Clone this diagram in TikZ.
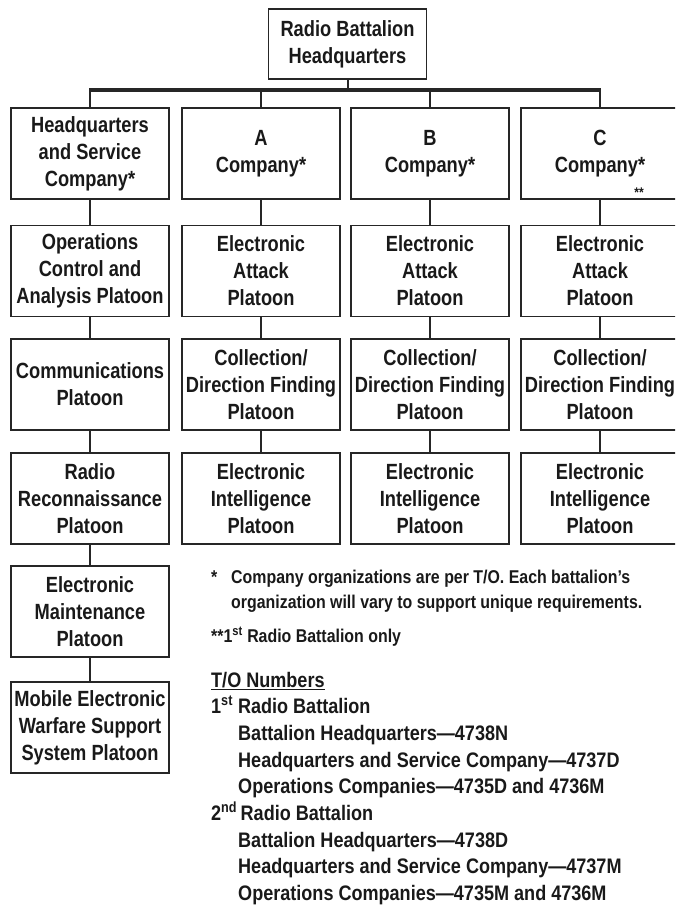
\documentclass[tikz,border=0pt]{standalone}
\usepackage{fontspec}
\setmainfont{Liberation Sans}[FakeStretch=0.86]
\newfontfamily\boxfont{Liberation Sans}[FakeStretch=0.83]
\begin{document}
\begin{tikzpicture}[x=1pt,y=-1pt,
  box/.style={draw=black!85,line width=1.2pt,minimum width=158pt,minimum height=91pt,
    align=center,inner sep=0pt,font=\boxfont\bfseries\fontsize{22}{27}\selectfont,text=black!90},
  conn/.style={draw=black!85,line width=2pt},
  busline/.style={draw=black!85,line width=4pt},
  note/.style={anchor=base west,inner sep=0pt,text=black!90}]
\useasboundingbox (0,0) rectangle (675,907);
\clip (0,0) rectangle (675,907);
% top
\node[box,minimum height=70pt] (top) at (347.5,44) {Radio Battalion\\Headquarters};
% row 1
\node[box] (c1r1) at (90,153.5) {Headquarters\\and Service\\Company*};
\node[box] (c2r1) at (261,153.5) {A\\Company*};
\node[box] (c3r1) at (430,153.5) {B\\Company*};
\node[box] (c4r1) at (600,153.5) {C\\Company*};
\node[inner sep=0pt,font=\bfseries\fontsize{14}{14}\selectfont,text=black!90] (dstar) at (639,193) {**};
% row 2
\node[box] (c1r2) at (90,271) {Operations\\Control and\\Analysis Platoon};
\node[box] (c2r2) at (261,271) {Electronic\\Attack\\Platoon};
\node[box] (c3r2) at (430,271) {Electronic\\Attack\\Platoon};
\node[box] (c4r2) at (600,271) {Electronic\\Attack\\Platoon};
% row 3
\node[box] (c1r3) at (90,384.5) {Communications\\Platoon};
\node[box] (c2r3) at (261,384.5) {Collection/\\Direction Finding\\Platoon};
\node[box] (c3r3) at (430,384.5) {Collection/\\Direction Finding\\Platoon};
\node[box] (c4r3) at (600,384.5) {Collection/\\Direction Finding\\Platoon};
% row 4
\node[box] (c1r4) at (90,498.5) {Radio\\Reconnaissance\\Platoon};
\node[box] (c2r4) at (261,498.5) {Electronic\\Intelligence\\Platoon};
\node[box] (c3r4) at (430,498.5) {Electronic\\Intelligence\\Platoon};
\node[box] (c4r4) at (600,498.5) {Electronic\\Intelligence\\Platoon};
% row 5, 6
\node[box] (c1r5) at (90,611.5) {Electronic\\Maintenance\\Platoon};
\node[box] (c1r6) at (90,727.5) {Mobile Electronic\\Warfare Support\\System Platoon};
% bus
\coordinate (busL) at (90,90);
\coordinate (busR) at (600,90);
\draw[conn] (top.south) -- (top.south |- busL);
\draw[busline] ([xshift=-1pt]busL) -- ([xshift=1pt]busR);
\foreach \c in {c1r1,c2r1,c3r1,c4r1}{\draw[conn] (\c.north) -- (\c.north |- busL);}
\foreach \c in {c1,c2,c3,c4}{
  \draw[conn] (\c r1.south) -- (\c r2.north);
  \draw[conn] (\c r2.south) -- (\c r3.north);
  \draw[conn] (\c r3.south) -- (\c r4.north);
}
\draw[conn] (c1r4.south) -- (c1r5.north);
\draw[conn] (c1r5.south) -- (c1r6.north);
% notes
\begin{scope}[every node/.append style={font=\bfseries\fontsize{18.5}{22}\selectfont}]
\node[note] (n1) at (211,583) {*};
\node[note] (n1a) at (231,583) {Company organizations are per T/O. Each battalion’s};
\node[note] (n1b) at (231,608) {organization will vary to support unique requirements.};
\node[note] (n2) at (211,642) {**1\textsuperscript{st} Radio Battalion only};
\end{scope}
\begin{scope}[every node/.append style={font=\bfseries\fontsize{21}{24}\selectfont}]
\node[note] (t0) at (211,687) {\underline{T/O Numbers}};
\node[note] (t1) at (211,713) {1\textsuperscript{st} Radio Battalion};
\node[note] (t2) at (238,740) {Battalion Headquarters—4738N};
\node[note] (t3) at (238,767) {Headquarters and Service Company—4737D};
\node[note] (t4) at (238,793) {Operations Companies—4735D and 4736M};
\node[note] (t5) at (211,820) {2\textsuperscript{nd}\,Radio Battalion};
\node[note] (t6) at (238,847) {Battalion Headquarters—4738D};
\node[note] (t7) at (238,873) {Headquarters and Service Company—4737M};
\node[note] (t8) at (238,900) {Operations Companies—4735M and 4736M};
\end{scope}
\end{tikzpicture}
\end{document}
